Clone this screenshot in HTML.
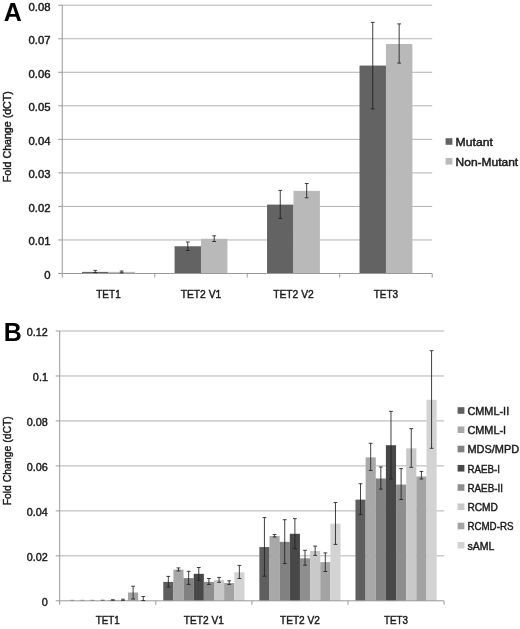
<!DOCTYPE html>
<html lang="en">
<head>
<meta charset="utf-8">
<title>TET expression - Fold Change (dCT)</title>
<style>html,body{margin:0;padding:0;background:#fff}svg{display:block;will-change:transform;filter:grayscale(1)}</style>
</head>
<body>
<svg width="520" height="629" viewBox="0 0 520 629" font-family='"Liberation Sans", sans-serif' font-size="10.3">
<rect width="520" height="629" fill="#fff"/>
<g stroke="#b2b2b2" stroke-width="1" fill="none">
<line x1="62.25" y1="239.96" x2="432.2" y2="239.96"/>
<line x1="62.25" y1="206.43" x2="432.2" y2="206.43"/>
<line x1="62.25" y1="172.89" x2="432.2" y2="172.89"/>
<line x1="62.25" y1="139.35" x2="432.2" y2="139.35"/>
<line x1="62.25" y1="105.81" x2="432.2" y2="105.81"/>
<line x1="62.25" y1="72.28" x2="432.2" y2="72.28"/>
<line x1="62.25" y1="38.74" x2="432.2" y2="38.74"/>
<line x1="62.25" y1="5.2" x2="432.2" y2="5.2"/>
</g>
<rect x="82.07" y="271.89" width="26.43" height="1.61" fill="#636363"/>
<rect x="108.49" y="271.89" width="26.43" height="1.61" fill="#b9b9b9"/>
<rect x="174.56" y="246.27" width="26.43" height="27.23" fill="#636363"/>
<rect x="200.98" y="238.76" width="26.43" height="34.74" fill="#b9b9b9"/>
<rect x="267.04" y="204.61" width="26.43" height="68.89" fill="#636363"/>
<rect x="293.47" y="190.9" width="26.43" height="82.6" fill="#b9b9b9"/>
<rect x="359.53" y="65.57" width="26.43" height="207.93" fill="#636363"/>
<rect x="385.96" y="44" width="26.43" height="229.5" fill="#b9b9b9"/>
<g stroke="#999999" stroke-width="1" fill="none">
<line x1="62.25" y1="5.2" x2="62.25" y2="277.5"/>
<line x1="58.25" y1="273.5" x2="432.2" y2="273.5"/>
<line x1="58.25" y1="239.96" x2="62.25" y2="239.96"/>
<line x1="58.25" y1="206.43" x2="62.25" y2="206.43"/>
<line x1="58.25" y1="172.89" x2="62.25" y2="172.89"/>
<line x1="58.25" y1="139.35" x2="62.25" y2="139.35"/>
<line x1="58.25" y1="105.81" x2="62.25" y2="105.81"/>
<line x1="58.25" y1="72.28" x2="62.25" y2="72.28"/>
<line x1="58.25" y1="38.74" x2="62.25" y2="38.74"/>
<line x1="58.25" y1="5.2" x2="62.25" y2="5.2"/>
<line x1="154.74" y1="273.5" x2="154.74" y2="277.5"/>
<line x1="247.22" y1="273.5" x2="247.22" y2="277.5"/>
<line x1="339.71" y1="273.5" x2="339.71" y2="277.5"/>
<line x1="432.2" y1="273.5" x2="432.2" y2="277.5"/>
</g>
<g stroke="#1f1f1f" stroke-width="0.85" fill="none">
<path d="M95.28 270.4V272.6M93.38 270.4H97.18M93.38 272.6H97.18"/>
<path d="M121.71 271V272.8M119.81 271H123.61M119.81 272.8H123.61"/>
<path d="M187.77 242V250.5M185.87 242H189.67M185.87 250.5H189.67"/>
<path d="M214.19 235.8V241.5M212.29 235.8H216.09M212.29 241.5H216.09"/>
<path d="M280.26 190.4V218.4M278.36 190.4H282.16M278.36 218.4H282.16"/>
<path d="M306.68 183.5V197.8M304.78 183.5H308.58M304.78 197.8H308.58"/>
<path d="M372.74 22.4V108.9M370.84 22.4H374.64M370.84 108.9H374.64"/>
<path d="M399.17 23.9V63.1M397.27 23.9H401.07M397.27 63.1H401.07"/>
</g>
<g fill="#1a1a1a" stroke="#1a1a1a" stroke-width="0.42">
<text x="50.6" y="278.8" text-anchor="end" textLength="6.3" lengthAdjust="spacingAndGlyphs">0</text>
<text x="50.6" y="245.26" text-anchor="end" textLength="22.02" lengthAdjust="spacingAndGlyphs">0.01</text>
<text x="50.6" y="211.73" text-anchor="end" textLength="22.02" lengthAdjust="spacingAndGlyphs">0.02</text>
<text x="50.6" y="178.19" text-anchor="end" textLength="22.02" lengthAdjust="spacingAndGlyphs">0.03</text>
<text x="50.6" y="144.65" text-anchor="end" textLength="22.02" lengthAdjust="spacingAndGlyphs">0.04</text>
<text x="50.6" y="111.11" text-anchor="end" textLength="22.02" lengthAdjust="spacingAndGlyphs">0.05</text>
<text x="50.6" y="77.58" text-anchor="end" textLength="22.02" lengthAdjust="spacingAndGlyphs">0.06</text>
<text x="50.6" y="44.04" text-anchor="end" textLength="22.02" lengthAdjust="spacingAndGlyphs">0.07</text>
<text x="50.6" y="10.5" text-anchor="end" textLength="22.02" lengthAdjust="spacingAndGlyphs">0.08</text>
<text x="108.49" y="297.6" text-anchor="middle" textLength="24.47" lengthAdjust="spacingAndGlyphs">TET1</text>
<text x="200.98" y="297.6" text-anchor="middle" textLength="40.62" lengthAdjust="spacingAndGlyphs">TET2 V1</text>
<text x="293.47" y="297.6" text-anchor="middle" textLength="40.62" lengthAdjust="spacingAndGlyphs">TET2 V2</text>
<text x="385.96" y="297.6" text-anchor="middle" textLength="24.47" lengthAdjust="spacingAndGlyphs">TET3</text>
<text transform="translate(11.1 136.7) rotate(-90)" text-anchor="middle" textLength="90.96" lengthAdjust="spacingAndGlyphs">Fold Change (dCT)</text>
</g>
<rect x="445.6" y="138.2" width="6.8" height="6.6" fill="#636363"/>
<rect x="445.6" y="158.0" width="6.8" height="6.6" fill="#b9b9b9"/>
<g fill="#1a1a1a" stroke="#1a1a1a" stroke-width="0.42">
<text x="455.6" y="146" text-anchor="start" textLength="37.23" lengthAdjust="spacingAndGlyphs">Mutant</text>
<text x="455.6" y="165.8" text-anchor="start" textLength="62.57" lengthAdjust="spacingAndGlyphs">Non-Mutant</text>
</g>
<g stroke="#b2b2b2" stroke-width="1" fill="none">
<line x1="59.7" y1="555.83" x2="444.1" y2="555.83"/>
<line x1="59.7" y1="510.87" x2="444.1" y2="510.87"/>
<line x1="59.7" y1="465.9" x2="444.1" y2="465.9"/>
<line x1="59.7" y1="420.93" x2="444.1" y2="420.93"/>
<line x1="59.7" y1="375.97" x2="444.1" y2="375.97"/>
<line x1="59.7" y1="331" x2="444.1" y2="331"/>
</g>
<rect x="107.75" y="600.13" width="10.15" height="0.67" fill="#8e8e8e"/>
<rect x="117.9" y="599.9" width="10.15" height="0.9" fill="#c9c9c9"/>
<rect x="128.05" y="592.48" width="10.15" height="8.32" fill="#a3a3a3"/>
<rect x="138.19" y="600.35" width="10.15" height="0.45" fill="#d3d3d3"/>
<rect x="163.26" y="581.91" width="10.15" height="18.89" fill="#5e5e5e"/>
<rect x="173.41" y="569.62" width="10.15" height="31.18" fill="#a8a8a8"/>
<rect x="183.55" y="578.09" width="10.15" height="22.71" fill="#818181"/>
<rect x="193.7" y="573.82" width="10.15" height="26.98" fill="#484848"/>
<rect x="203.85" y="581.91" width="10.15" height="18.89" fill="#8e8e8e"/>
<rect x="214" y="580.12" width="10.15" height="20.68" fill="#c9c9c9"/>
<rect x="224.15" y="583.04" width="10.15" height="17.76" fill="#a3a3a3"/>
<rect x="234.29" y="572.25" width="10.15" height="28.55" fill="#d3d3d3"/>
<rect x="259.36" y="547.06" width="10.15" height="53.74" fill="#5e5e5e"/>
<rect x="269.51" y="536.05" width="10.15" height="64.75" fill="#a8a8a8"/>
<rect x="279.65" y="541.89" width="10.15" height="58.91" fill="#818181"/>
<rect x="289.8" y="533.8" width="10.15" height="67" fill="#484848"/>
<rect x="299.95" y="558.31" width="10.15" height="42.49" fill="#8e8e8e"/>
<rect x="310.1" y="550.89" width="10.15" height="49.91" fill="#c9c9c9"/>
<rect x="320.25" y="562.13" width="10.15" height="38.67" fill="#a3a3a3"/>
<rect x="330.39" y="523.68" width="10.15" height="77.12" fill="#d3d3d3"/>
<rect x="355.46" y="499.62" width="10.15" height="101.17" fill="#5e5e5e"/>
<rect x="365.61" y="457.36" width="10.15" height="143.44" fill="#a8a8a8"/>
<rect x="375.75" y="478.49" width="10.15" height="122.31" fill="#818181"/>
<rect x="385.9" y="445.22" width="10.15" height="155.58" fill="#484848"/>
<rect x="396.05" y="484.56" width="10.15" height="116.24" fill="#8e8e8e"/>
<rect x="406.2" y="448.36" width="10.15" height="152.44" fill="#c9c9c9"/>
<rect x="416.35" y="476.47" width="10.15" height="124.33" fill="#a3a3a3"/>
<rect x="426.49" y="399.8" width="10.15" height="201" fill="#d3d3d3"/>
<g stroke="#999999" stroke-width="1" fill="none">
<line x1="59.7" y1="331" x2="59.7" y2="604.8"/>
<line x1="55.7" y1="600.8" x2="444.1" y2="600.8"/>
<line x1="55.7" y1="555.83" x2="59.7" y2="555.83"/>
<line x1="55.7" y1="510.87" x2="59.7" y2="510.87"/>
<line x1="55.7" y1="465.9" x2="59.7" y2="465.9"/>
<line x1="55.7" y1="420.93" x2="59.7" y2="420.93"/>
<line x1="55.7" y1="375.97" x2="59.7" y2="375.97"/>
<line x1="55.7" y1="331" x2="59.7" y2="331"/>
<line x1="155.8" y1="600.8" x2="155.8" y2="604.8"/>
<line x1="251.9" y1="600.8" x2="251.9" y2="604.8"/>
<line x1="348" y1="600.8" x2="348" y2="604.8"/>
<line x1="444.1" y1="600.8" x2="444.1" y2="604.8"/>
</g>
<g stroke="#1f1f1f" stroke-width="0.85" fill="none">
<path d="M72.23 600.1V600.4M70.33 600.1H74.13M70.33 600.4H74.13" opacity="0.18"/>
<path d="M82.38 600.1V600.4M80.48 600.1H84.28M80.48 600.4H84.28" opacity="0.18"/>
<path d="M92.53 600.1V600.4M90.63 600.1H94.43M90.63 600.4H94.43" opacity="0.22"/>
<path d="M102.68 600V600.4M100.78 600H104.58M100.78 600.4H104.58" opacity="0.4"/>
<path d="M112.82 599.6V600.4M110.92 599.6H114.72M110.92 600.4H114.72" opacity="0.8"/>
<path d="M122.97 599.2V600.4M121.07 599.2H124.87M121.07 600.4H124.87" opacity="0.9"/>
<path d="M133.12 586.2V599M131.22 586.2H135.02M131.22 599H135.02"/>
<path d="M143.27 596.5V600.6M141.37 596.5H145.17M141.37 600.6H145.17"/>
<path d="M168.33 576.4V587M166.43 576.4H170.23M166.43 587H170.23"/>
<path d="M178.48 567.9V570.9M176.58 567.9H180.38M176.58 570.9H180.38"/>
<path d="M188.63 571.3V584.4M186.73 571.3H190.53M186.73 584.4H190.53"/>
<path d="M198.78 567.5V580.2M196.88 567.5H200.68M196.88 580.2H200.68"/>
<path d="M208.92 578.5V584.4M207.02 578.5H210.82M207.02 584.4H210.82"/>
<path d="M219.07 577.4V582.3M217.17 577.4H220.97M217.17 582.3H220.97"/>
<path d="M229.22 580.8V584.4M227.32 580.8H231.12M227.32 584.4H231.12"/>
<path d="M239.37 565.4V578.5M237.47 565.4H241.27M237.47 578.5H241.27"/>
<path d="M264.43 517.6V576.2M262.53 517.6H266.33M262.53 576.2H266.33"/>
<path d="M274.58 534.5V537M272.68 534.5H276.48M272.68 537H276.48"/>
<path d="M284.73 519.7V563.5M282.83 519.7H286.63M282.83 563.5H286.63"/>
<path d="M294.88 518.6V548.7M292.98 518.6H296.78M292.98 548.7H296.78"/>
<path d="M305.02 550.3V565.2M303.12 550.3H306.92M303.12 565.2H306.92"/>
<path d="M315.17 546.1V555.4M313.27 546.1H317.07M313.27 555.4H317.07"/>
<path d="M325.32 552.9V571.5M323.42 552.9H327.22M323.42 571.5H327.22"/>
<path d="M335.47 502.5V544.4M333.57 502.5H337.37M333.57 544.4H337.37"/>
<path d="M360.53 483.7V514.4M358.63 483.7H362.43M358.63 514.4H362.43"/>
<path d="M370.68 443.3V470.5M368.78 443.3H372.58M368.78 470.5H372.58"/>
<path d="M380.83 467V489.1M378.93 467H382.73M378.93 489.1H382.73"/>
<path d="M390.98 411.3V479M389.08 411.3H392.88M389.08 479H392.88"/>
<path d="M401.12 468.6V499.5M399.22 468.6H403.02M399.22 499.5H403.02"/>
<path d="M411.27 428.6V467.3M409.37 428.6H413.17M409.37 467.3H413.17"/>
<path d="M421.42 471.4V479M419.52 471.4H423.32M419.52 479H423.32"/>
<path d="M431.57 350.7V448.3M429.67 350.7H433.47M429.67 448.3H433.47"/>
</g>
<g fill="#1a1a1a" stroke="#1a1a1a" stroke-width="0.42">
<text x="47.9" y="605.9" text-anchor="end" textLength="6.02" lengthAdjust="spacingAndGlyphs">0</text>
<text x="47.9" y="560.93" text-anchor="end" textLength="21.03" lengthAdjust="spacingAndGlyphs">0.02</text>
<text x="47.9" y="515.97" text-anchor="end" textLength="21.03" lengthAdjust="spacingAndGlyphs">0.04</text>
<text x="47.9" y="471" text-anchor="end" textLength="21.03" lengthAdjust="spacingAndGlyphs">0.06</text>
<text x="47.9" y="426.03" text-anchor="end" textLength="21.03" lengthAdjust="spacingAndGlyphs">0.08</text>
<text x="47.9" y="381.07" text-anchor="end" textLength="15.02" lengthAdjust="spacingAndGlyphs">0.1</text>
<text x="47.9" y="336.1" text-anchor="end" textLength="21.03" lengthAdjust="spacingAndGlyphs">0.12</text>
<text x="107.75" y="624.45" text-anchor="middle" textLength="24.1" lengthAdjust="spacingAndGlyphs">TET1</text>
<text x="203.85" y="624.45" text-anchor="middle" textLength="40.01" lengthAdjust="spacingAndGlyphs">TET2 V1</text>
<text x="299.95" y="624.45" text-anchor="middle" textLength="40.01" lengthAdjust="spacingAndGlyphs">TET2 V2</text>
<text x="396.05" y="624.45" text-anchor="middle" textLength="24.1" lengthAdjust="spacingAndGlyphs">TET3</text>
<text transform="translate(11.1 460.8) rotate(-90)" text-anchor="middle" textLength="89.14" lengthAdjust="spacingAndGlyphs">Fold Change (dCT)</text>
</g>
<rect x="457.6" y="407.2" width="6.8" height="6.6" fill="#5e5e5e"/>
<rect x="457.6" y="426.45" width="6.8" height="6.6" fill="#a8a8a8"/>
<rect x="457.6" y="445.7" width="6.8" height="6.6" fill="#818181"/>
<rect x="457.6" y="464.95" width="6.8" height="6.6" fill="#484848"/>
<rect x="457.6" y="484.2" width="6.8" height="6.6" fill="#8e8e8e"/>
<rect x="457.6" y="503.45" width="6.8" height="6.6" fill="#c9c9c9"/>
<rect x="457.6" y="522.7" width="6.8" height="6.6" fill="#a3a3a3"/>
<rect x="457.6" y="541.95" width="6.8" height="6.6" fill="#d3d3d3"/>
<g fill="#1a1a1a" stroke="#1a1a1a" stroke-width="0.42">
<text x="467.4" y="414.9" text-anchor="start" textLength="41.77" lengthAdjust="spacingAndGlyphs">CMML-II</text>
<text x="467.4" y="434.15" text-anchor="start" textLength="38.74" lengthAdjust="spacingAndGlyphs">CMML-I</text>
<text x="467.4" y="453.4" text-anchor="start" textLength="51.74" lengthAdjust="spacingAndGlyphs">MDS/MPD</text>
<text x="467.4" y="472.65" text-anchor="start" textLength="32.61" lengthAdjust="spacingAndGlyphs">RAEB-I</text>
<text x="467.4" y="491.9" text-anchor="start" textLength="35.65" lengthAdjust="spacingAndGlyphs">RAEB-II</text>
<text x="467.4" y="511.15" text-anchor="start" textLength="30.51" lengthAdjust="spacingAndGlyphs">RCMD</text>
<text x="467.4" y="530.4" text-anchor="start" textLength="46.09" lengthAdjust="spacingAndGlyphs">RCMD-RS</text>
<text x="467.4" y="549.65" text-anchor="start" textLength="27" lengthAdjust="spacingAndGlyphs">sAML</text>
</g>
<g font-weight="bold" fill="#000">
<text x="3.7" y="20.5" font-size="25">A</text>
<text x="3.8" y="340.6" font-size="25">B</text>
</g>
</svg>
</body>
</html>
